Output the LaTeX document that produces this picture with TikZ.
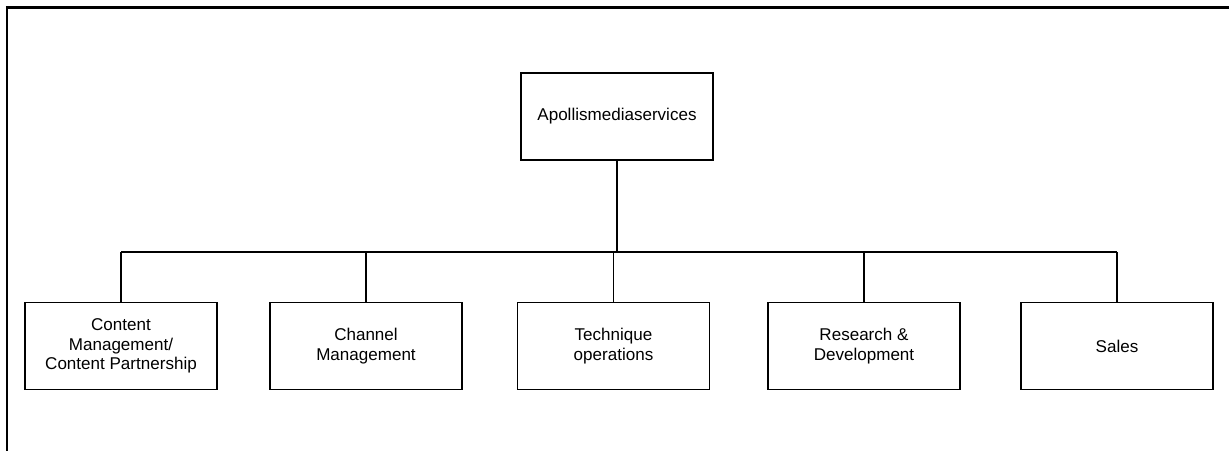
\documentclass[tikz,border=0pt]{standalone}
\usepackage{fontspec}
\setmainfont{Liberation Sans}
\usetikzlibrary{positioning,calc}

\begin{document}
\begin{tikzpicture}[
  unit/.style={
    draw=black, fill=white, line width=1pt,
    minimum width=3.84cm, minimum height=1.74cm,
    align=center, inner sep=3pt,
    font=\fontsize{9.7}{11.2}\selectfont
  },
  link/.style={line width=0.75pt, color=black},
  frame/.style={line width=1.2pt, color=black}
]
  \useasboundingbox (0,0) rectangle (24.58,-9.02);
  % outer frame (top and left only)
  \draw[frame] (0.12,-0.15) -- (24.58,-0.15);
  \draw[frame] (0.14,-0.15) -- (0.14,-9.02);

  \node[unit] (top) at (12.34,-2.33) {Apollismediaservices};

  \node[unit] (cm)   at (2.42,-6.92)  {Content\\ Management/\\ Content Partnership};
  \node[unit] (ch)   at (7.32,-6.92)  {Channel\\ Management};
  \node[unit] (tech) at (12.27,-6.92) {Technique\\ operations};
  \node[unit] (rd)   at (17.28,-6.92) {Research \&\\ Development};
  \node[unit] (sal)  at (22.34,-6.92) {Sales};

  \coordinate (bus) at ($(top.south |- 0,-5.04)$);
  \draw[link] (top.south) -- (bus);
  \draw[link] (cm.north |- bus) -- (sal.north |- bus);
  \foreach \n in {cm,ch,tech,rd,sal}
    \draw[link] (\n.north) -- (\n.north |- bus);
\end{tikzpicture}
\end{document}
